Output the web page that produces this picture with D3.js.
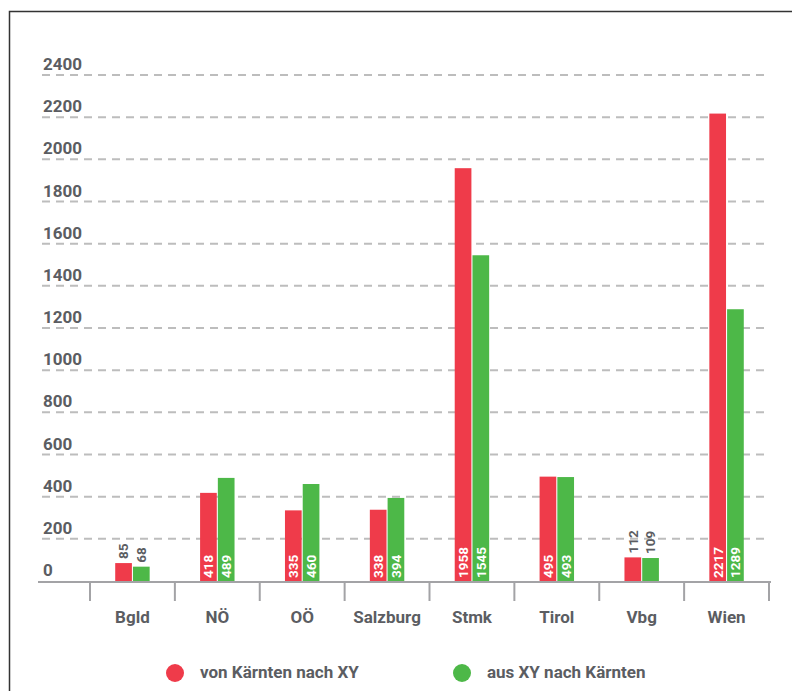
<!DOCTYPE html>
<html>
<head>
<meta charset="utf-8">
<script src="https://cdn.jsdelivr.net/npm/d3@7"></script>
<style>
  body { margin:0; background:#fff; }
  text { font-family: Roboto, "Open Sans", sans-serif; font-weight:700; }
</style>
</head>
<body>
<svg id="chart" width="792" height="691"></svg>
<script>
// data
const regions = ["Bgld","NÖ","OÖ","Salzburg","Stmk","Tirol","Vbg","Wien"];
const vonKaernten = [85,418,335,338,1958,495,112,2217];
const ausKaernten = [68,489,460,394,1545,493,109,1289];
const seriesNames = ["von Kärnten nach XY","aus XY nach Kärnten"];
const yTicks = [0,200,400,600,800,1000,1200,1400,1600,1800,2000,2200,2400];

const RED = "#ef3b4a";
const GREEN = "#4db848";
const TEXT = "#5b5d62";

const svg = d3.select("#chart");

// frame
svg.append("path")
   .attr("d","M9.5,691 L9.5,11.5 L792,11.5")
   .attr("fill","none")
   .attr("stroke","#333")
   .attr("stroke-width",1.5);

const yScale = d3.scaleLinear().domain([0,2400]).range([581,75]);
const xScale = d3.scaleBand().domain(regions).range([90,769]);
const inner = d3.scaleBand().domain([0,1]).range([0,xScale.bandwidth()]).paddingInner(0.06).paddingOuter(1.42);

// gridlines
const grid = svg.append("g");
grid.selectAll("line")
    .data(yTicks.filter(d=>d>0))
    .join("line")
    .attr("x1",42).attr("x2",767)
    .attr("y1",d=>yScale(d)).attr("y2",d=>yScale(d))
    .attr("stroke","#bdbdbd")
    .attr("stroke-width",2)
    .attr("stroke-dasharray","8,6");
grid.selectAll("text")
    .data(yTicks)
    .join("text")
    .attr("x",43)
    .attr("y",d=>yScale(d)-5)
    .attr("fill",TEXT)
    .style("font-size","17px")
    .text(d=>d);

// bars
const rows = regions.map((r,i)=>({region:r, vals:[vonKaernten[i],ausKaernten[i]]}));
const groups = svg.append("g").selectAll("g")
    .data(rows)
    .join("g")
    .attr("transform",d=>"translate("+xScale(d.region)+",0)");

groups.selectAll("rect")
    .data(d=>d.vals)
    .join("rect")
    .attr("x",(d,i)=>inner(i))
    .attr("width",inner.bandwidth())
    .attr("y",d=>yScale(d))
    .attr("height",d=>yScale(0)-yScale(d))
    .attr("fill",(d,i)=>i===0?RED:GREEN);

// value labels, rotated
groups.selectAll("text")
    .data(d=>d.vals)
    .join("text")
    .attr("transform",function(d,i){
      let cx = inner(i)+inner.bandwidth()/2;
      let inside = d>200;
      let y = inside ? yScale(0)-3 : yScale(d)-4;
      return "translate("+cx+","+y+") rotate(-90)";
    })
    .attr("dy","0.36em")
    .attr("fill",d=>d>200?"#fff":TEXT)
    .style("font-size","13.5px")
    .text(d=>d);

// x axis
const axis = svg.append("g");
axis.append("line")
    .attr("x1",38).attr("x2",771)
    .attr("y1",582).attr("y2",582)
    .attr("stroke","#a3a3a6")
    .attr("stroke-width",2);
axis.selectAll("line.tick")
    .data(regions.map(r=>xScale(r)).concat([xScale.range()[1]]))
    .join("line")
    .attr("class","tick")
    .attr("x1",d=>d).attr("x2",d=>d)
    .attr("y1",582).attr("y2",601)
    .attr("stroke","#a3a3a6")
    .attr("stroke-width",2);
axis.selectAll("text")
    .data(regions)
    .join("text")
    .attr("x",d=>xScale(d)+xScale.bandwidth()/2)
    .attr("y",623)
    .attr("text-anchor","middle")
    .attr("fill",TEXT)
    .style("font-size","17px")
    .text(d=>d);

// legend
const legendX = [175,462];
const legend = svg.append("g").selectAll("g")
    .data(seriesNames)
    .join("g")
    .attr("transform",(d,i)=>"translate("+legendX[i]+",673)");
legend.append("circle")
    .attr("r",9)
    .attr("fill",(d,i)=>i===0?RED:GREEN);
legend.append("text")
    .attr("x",25)
    .attr("y",5)
    .attr("fill",TEXT)
    .style("font-size","17px")
    .text(d=>d);
</script>
</body>
</html>
